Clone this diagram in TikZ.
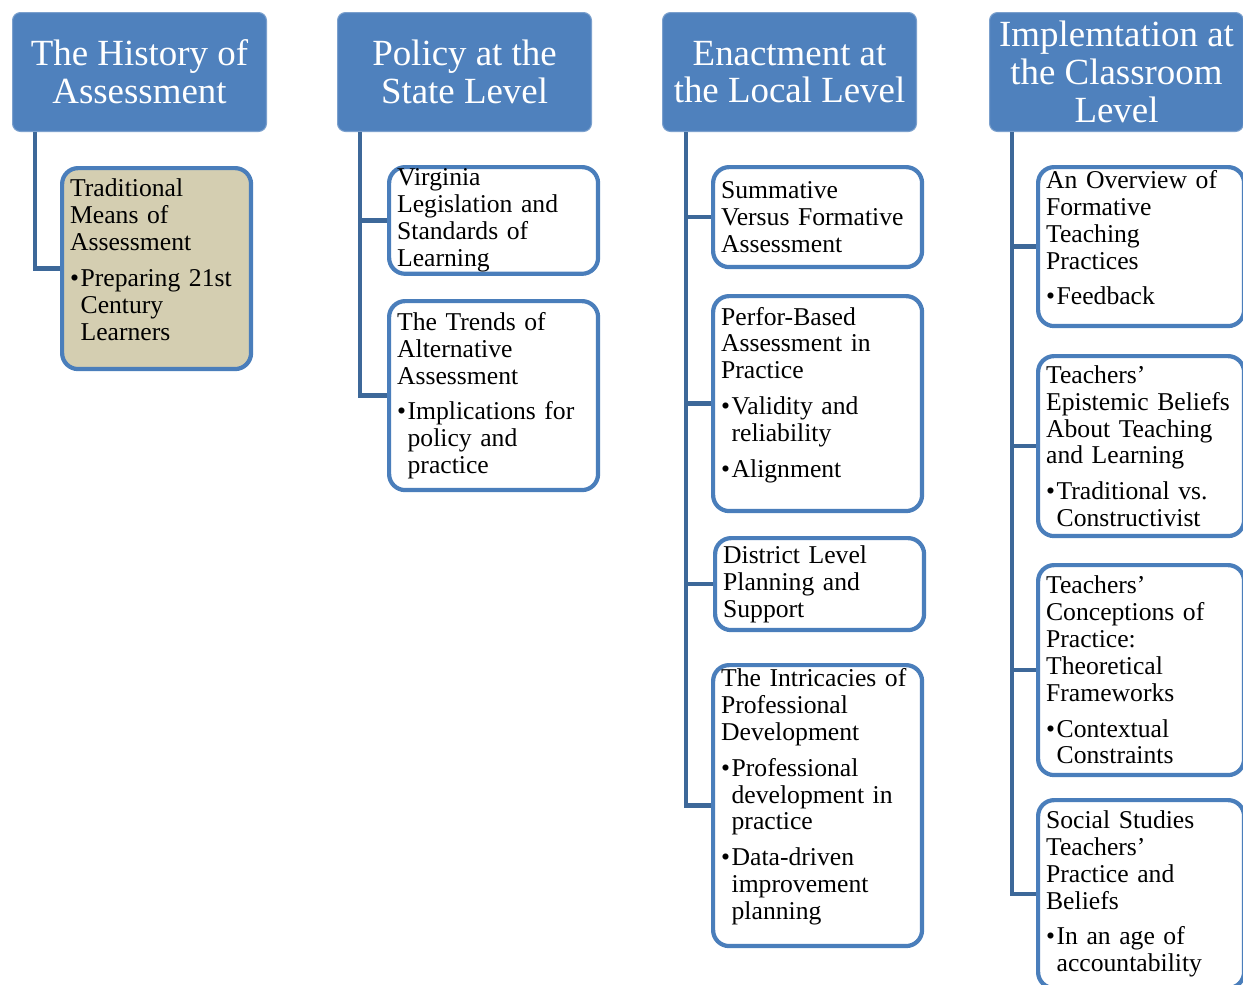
\documentclass[tikz,border=0pt]{standalone}
\usepackage{fontspec}
\setmainfont{Liberation Serif}
\definecolor{headblue}{HTML}{4F81BD}
\definecolor{edgeblue}{HTML}{4A7EBB}
\definecolor{linkblue}{HTML}{3D6899}
\definecolor{tanfill}{HTML}{D4CEB1}
\newcommand{\bul}{\makebox[6pt][l]{\textbullet}}
\newcommand{\hng}{\hspace*{6pt}}
\newcommand{\botpad}{\par\kern 10pt}

\begin{document}
\begin{tikzpicture}
    [
        x=0.02cm, y=-0.02cm,
        head/.style = {draw=headblue!75!white, line width=0.6pt, fill=headblue, rounded corners=0.16cm, text=white, align=center, anchor=north west, minimum width=5.08cm, minimum height=2.38cm, font=\fontsize{21}{21.5}\selectfont},
        sub/.style = {draw=edgeblue, line width=2.4pt, fill=white, rounded corners=0.32cm, align=left, anchor=north west, inner xsep=0.16cm, inner ysep=1pt, font=\fontsize{14.6}{15.3}\selectfont},
        pad/.style = {execute at end node=\botpad},
        link/.style = {draw=linkblue, line width=2.6pt},
    ]

    \useasboundingbox (0,0) rectangle (1243,984);

    \node[head] (h1) at (12,12)   {The History of\\Assessment};
    \node[head] (h2) at (337,12)  {Policy at the\\State Level};
    \node[head] (h3) at (662,12)  {Enactment at\\the Local Level};
    \node[head] (h4) at (989,12)  {Implemtation at\\the Classroom\\Level};

    \node[sub, pad, fill=tanfill, text width=3.46cm, minimum height=4.02cm] (h1a) at (60,166)
        {Traditional\\Means of\\Assessment\\[5pt]\bul Preparing 21st\\\hng Century\\\hng Learners};

    \node[sub, text width=3.86cm, minimum height=2.06cm] (h2a) at (387,165)
        {Virginia\\Legislation and\\Standards of\\Learning};
    \node[sub, text width=3.86cm, minimum height=3.78cm] (h2b) at (387,299)
        {The Trends of\\Alternative\\Assessment\\[5pt]\bul Implications for\\\hng policy and\\\hng practice};

    \node[sub, text width=3.86cm, minimum height=2.0cm] (h3a) at (711,165)
        {Summative\\Versus Formative\\Assessment};
    \node[sub, pad, text width=3.86cm, minimum height=4.3cm] (h3b) at (711,294)
        {Perfor-Based\\Assessment in\\Practice\\[5pt]\bul Validity and\\\hng reliability\\[5pt]\bul Alignment};
    \node[sub, text width=3.86cm, minimum height=1.84cm] (h3c) at (713,536)
        {District Level\\Planning and\\Support};
    \node[sub, pad, text width=3.86cm, minimum height=5.62cm] (h3d) at (711,663)
        {The Intricacies of\\Professional\\Development\\[5pt]\bul Professional\\\hng development in\\\hng practice\\[5pt]\bul Data-driven\\\hng improvement\\\hng planning};

    \node[sub, pad, text width=3.8cm, minimum height=3.18cm] (h4a) at (1036,165)
        {An Overview of\\Formative\\Teaching\\Practices\\[5pt]\bul Feedback};
    \node[sub, text width=3.8cm, minimum height=3.6cm] (h4b) at (1036,354)
        {Teachers’\\Epistemic Beliefs\\About Teaching\\and Learning\\[5pt]\bul Traditional vs.\\\hng Constructivist};
    \node[sub, text width=3.8cm, minimum height=4.2cm] (h4c) at (1036,563)
        {Teachers’\\Conceptions of\\Practice:\\Theoretical\\Frameworks\\[5pt]\bul Contextual\\\hng Constraints};
    \node[sub, text width=3.8cm, minimum height=3.76cm] (h4d) at (1036,798)
        {Social Studies\\Teachers’\\Practice and\\Beliefs\\[5pt]\bul In an age of\\\hng accountability};

    \draw[link] ([xshift=0.46cm]h1.south west) |- (h1a.west);

    \draw[link] ([xshift=0.46cm]h2.south west) |- (h2a.west);
    \draw[link] ([xshift=0.46cm]h2.south west) |- (h2b.west);

    \draw[link] ([xshift=0.48cm]h3.south west) |- (h3a.west);
    \draw[link] ([xshift=0.48cm]h3.south west) |- (h3b.west);
    \draw[link] ([xshift=0.48cm]h3.south west) |- (h3c.west);
    \draw[link] ([xshift=0.48cm]h3.south west) |- (h3d.west);

    \draw[link] ([xshift=0.46cm]h4.south west) |- (h4a.west);
    \draw[link] ([xshift=0.46cm]h4.south west) |- (h4b.west);
    \draw[link] ([xshift=0.46cm]h4.south west) |- (h4c.west);
    \draw[link] ([xshift=0.46cm]h4.south west) |- (h4d.west);

\end{tikzpicture}
\end{document}
